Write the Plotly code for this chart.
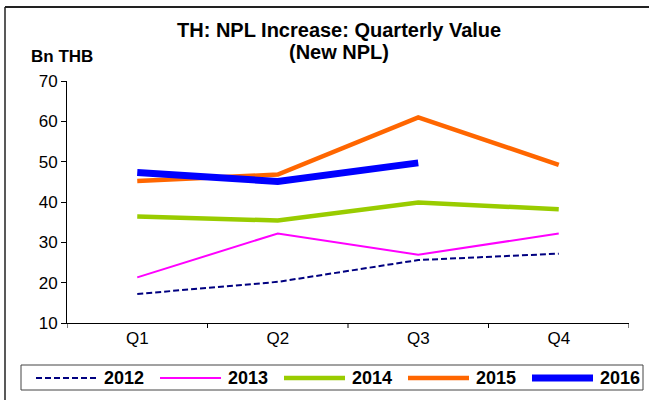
import plotly.graph_objects as go

quarters = ["Q1", "Q2", "Q3", "Q4"]
years = ["2012", "2013", "2014", "2015", "2016"]
v2012 = [17.2, 20.2, 25.6, 27.2]
v2013 = [21.3, 32.2, 26.9, 32.2]
v2014 = [36.4, 35.4, 39.9, 38.2]
v2015 = [45.2, 46.8, 61.0, 49.2]
v2016 = [47.3, 45.1, 49.7, None]

W, H = 649, 400
L, R, T, B = 67, 629, 81, 323

def px_x(p):
    return (p - L) / (R - L)

def px_y(p):
    return (B - p) / (B - T)

FONT = "Liberation Sans, Arial, sans-serif"

fig = go.Figure()
styles = [
    ("#000080", 2, "6px,3px"),
    ("#FF00FF", 2, "solid"),
    ("#99CC00", 4.5, "solid"),
    ("#FF6600", 4.5, "solid"),
    ("#0000FF", 7, "solid"),
]
values = [v2012, v2013, v2014, v2015, v2016]
for name, vals, (col, w, dash) in zip(years, values, styles):
    fig.add_trace(go.Scatter(
        x=quarters, y=vals, name=name, mode="lines",
        line=dict(color=col, width=w, dash=dash),
        connectgaps=False, showlegend=False,
    ))

fig.update_layout(
    width=W, height=H,
    margin=dict(l=L, r=W - R, t=T, b=H - B, autoexpand=False),
    paper_bgcolor="white", plot_bgcolor="white",
    font=dict(family=FONT, color="black"),
    showlegend=False,
    xaxis=dict(
        type="category", range=[-0.5, 3.5],
        showline=True, linecolor="black", linewidth=1,
        showgrid=False, ticks="", tickfont=dict(size=17),
        zeroline=False,
    ),
    yaxis=dict(
        range=[10, 70], dtick=10,
        showline=True, linecolor="black", linewidth=1,
        showgrid=False, ticks="outside", ticklen=5, tickcolor="black",
        tickfont=dict(size=17), zeroline=False,
    ),
)

shapes = []
# category boundary tick marks on x axis
for i in range(5):
    shapes.append(dict(type="line", xref="x", yref="paper",
                       x0=i - 0.5, x1=i - 0.5, y0=0, y1=-5 / (B - T),
                       line=dict(color="black", width=1)))
# slide frame
shapes.append(dict(type="line", xref="paper", yref="paper",
                   x0=px_x(5), x1=px_x(649), y0=px_y(7), y1=px_y(7),
                   line=dict(color="#222222", width=2)))
shapes.append(dict(type="line", xref="paper", yref="paper",
                   x0=px_x(5), x1=px_x(5), y0=px_y(7), y1=px_y(400),
                   line=dict(color="#222222", width=1.5)))
# legend box
shapes.append(dict(type="rect", xref="paper", yref="paper",
                   x0=px_x(21), x1=px_x(643), y0=px_y(365), y1=px_y(390),
                   line=dict(color="#444444", width=1), fillcolor="rgba(0,0,0,0)"))
leg_y = 378
leg_start = 36
leg_step = 124
for i, (name, (col, w, dash)) in enumerate(zip(years, styles)):
    x0 = leg_start + i * leg_step
    x1 = x0 + 61
    shapes.append(dict(type="line", xref="paper", yref="paper",
                       x0=px_x(x0), x1=px_x(x1), y0=px_y(leg_y), y1=px_y(leg_y),
                       line=dict(color=col, width=w, dash=dash)))
    fig.add_annotation(x=px_x(x1 + 5), y=px_y(leg_y), xref="paper", yref="paper",
                       text="<b>" + name + "</b>", showarrow=False,
                       font=dict(size=18, family=FONT),
                       xanchor="left", yanchor="middle")
fig.update_layout(shapes=shapes)

fig.add_annotation(x=px_x(339), y=px_y(30), xref="paper", yref="paper",
                   text="<b>TH: NPL Increase: Quarterly Value</b>", showarrow=False,
                   font=dict(size=20, family=FONT), xanchor="center", yanchor="middle")
fig.add_annotation(x=px_x(339), y=px_y(52), xref="paper", yref="paper",
                   text="<b>(New NPL)</b>", showarrow=False,
                   font=dict(size=20, family=FONT), xanchor="center", yanchor="middle")
fig.add_annotation(x=px_x(29), y=px_y(56), xref="paper", yref="paper",
                   text="<b>Bn THB</b>", showarrow=False,
                   font=dict(size=17, family=FONT), xanchor="left", yanchor="middle")

fig.write_html("out.html", config={"displayModeBar": False},
               post_script="document.body.style.margin='0';document.body.style.overflow='hidden';")
